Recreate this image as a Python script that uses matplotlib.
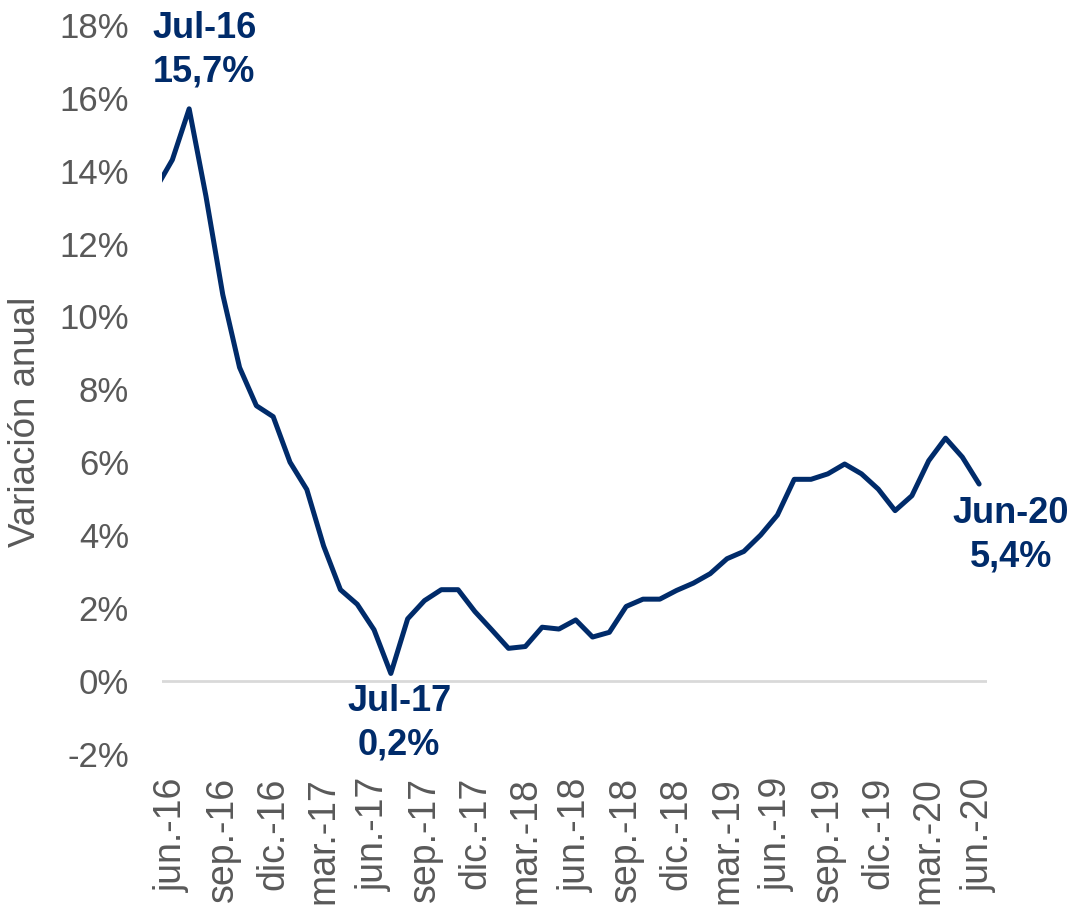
import numpy as np
import matplotlib.pyplot as plt

plt.rcParams['font.family'] = ['Liberation Sans', 'DejaVu Sans']

# Variación anual mensual, may-16 a jun-20 (may-16 queda cortado por el eje)
meses = ['may.-16', 'jun.-16', 'jul.-16', 'ago.-16', 'sep.-16', 'oct.-16', 'nov.-16', 'dic.-16',
         'ene.-17', 'feb.-17', 'mar.-17', 'abr.-17', 'may.-17', 'jun.-17', 'jul.-17', 'ago.-17',
         'sep.-17', 'oct.-17', 'nov.-17', 'dic.-17', 'ene.-18', 'feb.-18', 'mar.-18', 'abr.-18',
         'may.-18', 'jun.-18', 'jul.-18', 'ago.-18', 'sep.-18', 'oct.-18', 'nov.-18', 'dic.-18',
         'ene.-19', 'feb.-19', 'mar.-19', 'abr.-19', 'may.-19', 'jun.-19', 'jul.-19', 'ago.-19',
         'sep.-19', 'oct.-19', 'nov.-19', 'dic.-19', 'ene.-20', 'feb.-20', 'mar.-20', 'abr.-20',
         'may.-20', 'jun.-20']
valores = [13.5, 14.3, 15.7, 13.3, 10.6, 8.6, 7.55, 7.25,
           6.0, 5.25, 3.7, 2.5, 2.1, 1.4, 0.2, 1.7,
           2.2, 2.5, 2.5, 1.9, 1.4, 0.89, 0.94, 1.47,
           1.42, 1.67, 1.2, 1.33, 2.04, 2.24, 2.24, 2.48,
           2.68, 2.94, 3.35, 3.55, 4.0, 4.55, 5.53, 5.53,
           5.68, 5.95, 5.68, 5.26, 4.67, 5.08, 6.04, 6.66,
           6.14, 5.4]

# etiquetas destacadas: (mes, texto)
destacados = [('jul.-16', 'Jul-16\n15,7%'), ('jul.-17', 'Jul-17\n0,2%'), ('jun.-20', 'Jun-20\n5,4%')]
yticks = [-2, 0, 2, 4, 6, 8, 10, 12, 14, 16, 18]

azul = '#002B6A'
gris = '#595959'

x = np.arange(len(valores)) - 1  # jun.-16 en la posicion 0

fig = plt.figure(figsize=(10.76, 9.07), dpi=100)
ax = fig.add_axes([0.1508, 0.1691, 0.7662, 0.8033])

ax.plot(x, valores, color=azul, lw=3.6, solid_joinstyle='round', solid_capstyle='round', zorder=3)
ax.axhline(0, color='#D9D9D9', lw=2, zorder=1)

ax.set_xlim(-0.6, 48.45)
ax.set_ylim(-2, 18)
ax.set_yticks(yticks)
ax.set_yticklabels([f'{v}%' for v in yticks])

pos = x[1::3]
ax.set_xticks(pos)
ax.set_xticklabels(meses[1::3], rotation=90)

ax.tick_params(axis='y', length=0, pad=24, labelsize=25, labelcolor=gris)
ax.tick_params(axis='x', length=0, pad=17, labelsize=27, labelcolor=gris)
for s in ax.spines.values():
    s.set_visible(False)

ax.set_ylabel('Variación anual', fontsize=26.5, color=gris)
ax.yaxis.set_label_coords(-0.145, 0.456)

offsets = [(11, 42), (6, -36), (23, -37)]
for (mes, txt), off in zip(destacados, offsets):
    i = meses.index(mes)
    ax.annotate(txt, xy=(x[i], valores[i]), xytext=off, textcoords='offset points',
                ha='center', va='center', fontsize=26, fontweight='bold', color=azul,
                linespacing=1.3, annotation_clip=False)

fig.savefig('out.png', dpi=100)
